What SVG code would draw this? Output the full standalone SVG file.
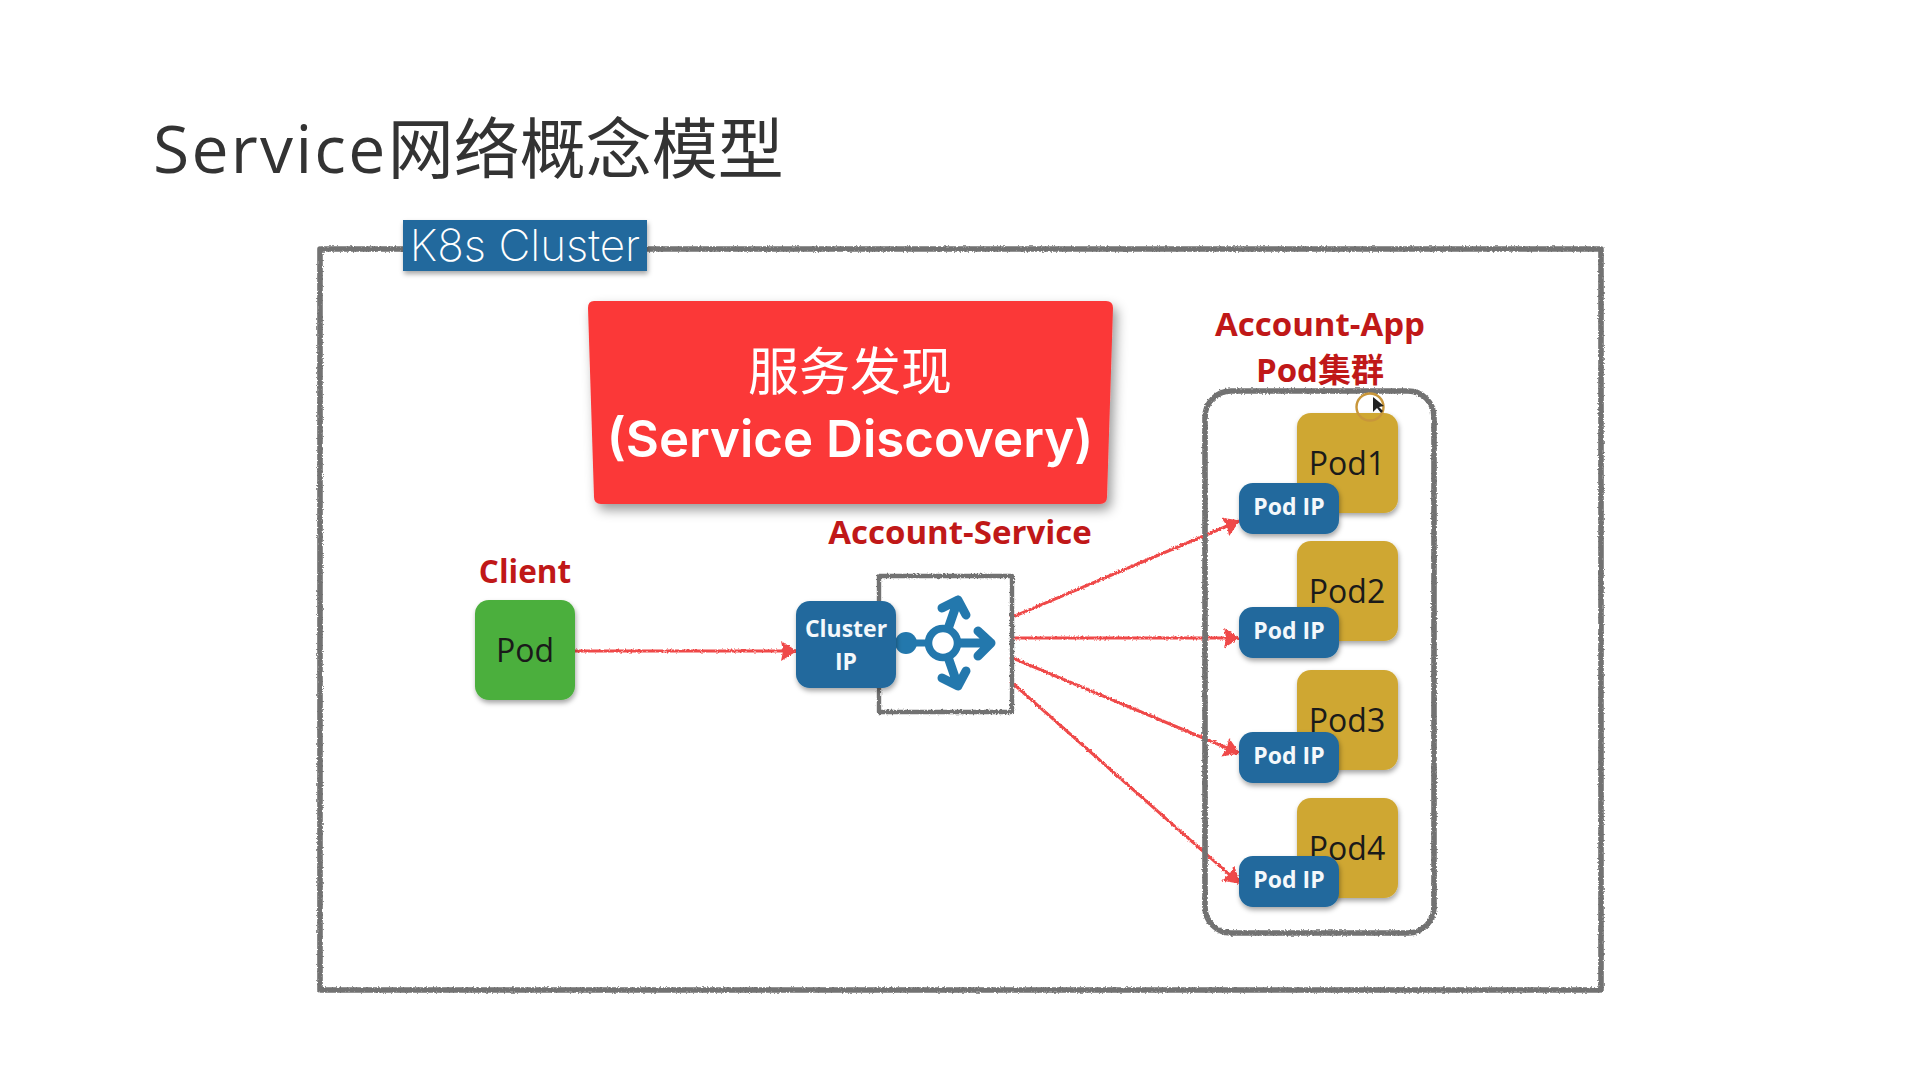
<svg xmlns="http://www.w3.org/2000/svg" width="1920" height="1080" viewBox="0 0 1920 1080">
<defs>
<style>
.sk{fill:none;stroke:#727272;stroke-width:5.6;stroke-linejoin:round}
.conn{fill:none;stroke:#ef4848;stroke-width:3}
.ah{fill:#ef4848}
.blue{fill:#20699d}
.pod{fill:#cfa733}
.lbl{font-family:"Open Sans","Noto Sans CJK SC",sans-serif}
.red{font-family:"Open Sans","Noto Sans CJK SC",sans-serif;font-weight:700;font-size:33px;fill:#c01818;text-anchor:middle}
.podt{font-family:"Open Sans",sans-serif;font-size:32px;fill:#1a1a1a;text-anchor:middle}
.ipt{font-family:"Open Sans",sans-serif;font-weight:700;font-size:23px;fill:#f4f8fb;text-anchor:middle}
</style>
<filter id="sh" x="-20%" y="-20%" width="140%" height="140%"><feDropShadow dx="1" dy="3" stdDeviation="2.5" flood-color="#000" flood-opacity=".35"/></filter>
<filter id="shb" x="-20%" y="-20%" width="140%" height="140%"><feDropShadow dx="4" dy="6" stdDeviation="6" flood-color="#000" flood-opacity=".4"/></filter>
<filter id="rough" filterUnits="userSpaceOnUse" x="0" y="0" width="1920" height="1080"><feTurbulence type="fractalNoise" baseFrequency=".55" numOctaves="2" seed="4"/><feDisplacementMap in="SourceGraphic" scale="3.2" xChannelSelector="R" yChannelSelector="G"/></filter>
<marker id="arr" viewBox="0 0 16 20" refX="15" refY="10" markerWidth="16" markerHeight="20" markerUnits="userSpaceOnUse" orient="auto"><path class="ah" d="M0 0L16 10L0 20L2 10Z"/></marker>
</defs>
<rect width="1920" height="1080" fill="#fff"/>
<text id="title" x="153" y="173" class="lbl" font-size="66" fill="#333"><tspan letter-spacing="2.3">Service</tspan>网络概念模型</text>
<g id="cluster">
<rect class="sk" x="320" y="249" width="1281" height="741" filter="url(#rough)"/>
<rect x="403" y="220" width="244" height="51" class="blue" filter="url(#sh)"/>
<text x="525" y="261" text-anchor="middle" font-family="Inter,'Open Sans',sans-serif" font-size="44" font-weight="200" fill="#fff">K8s Cluster</text>
</g>
<g id="discovery">
<path d="M594 301H1106Q1113 301 1113 308L1107 497Q1107 504 1100 504H601Q594 504 594 497L588 308Q588 301 594 301Z" fill="#fb3838" filter="url(#shb)"/>
<text x="850" y="390" text-anchor="middle" class="lbl" font-size="51" fill="#fff">服务发现</text>
<text x="850" y="457" text-anchor="middle" font-family="Inter,'Open Sans',sans-serif" font-weight="600" font-size="51" fill="#fff">(Service Discovery)</text>
</g>
<g id="connectors" filter="url(#rough)">
<path class="conn" marker-end="url(#arr)" d="M575 651H796"/>
<path class="conn" marker-end="url(#arr)" d="M1010 618L1239 521"/>
<path class="conn" marker-end="url(#arr)" d="M1010 638H1239"/>
<path class="conn" marker-end="url(#arr)" d="M1010 657L1239 753"/>
<path class="conn" marker-end="url(#arr)" d="M1010 681L1239 883"/>
</g>
<g id="client">
<text x="525" y="583" class="red" style="font-size:31.5px">Client</text>
<rect x="475" y="600" width="100" height="100" rx="14" fill="#4caf3d" filter="url(#sh)"/>
<text x="525" y="662" class="podt">Pod</text>
</g>
<g id="service">
<text x="960" y="544" class="red">Account-Service</text>
<rect class="sk" x="879" y="576" width="133" height="136" style="stroke-width:4.4" filter="url(#rough)"/>
<g fill="none" stroke="#2378ad" stroke-linecap="round" stroke-linejoin="round">
<circle cx="906" cy="643" r="11" fill="#2378ad" stroke="none"/>
<path d="M906 643H930" stroke-width="7" stroke-linecap="butt"/>
<path d="M957 643H991M978 631L991 643L978 656M948 629L958 600M942 608L958 600L966 615M948 657L958 686M942 678L958 686L966 671" stroke-width="9"/>
<circle cx="943" cy="643" r="14.5" fill="#fff" stroke-width="7.5"/>
</g>
<rect x="796" y="601" width="100" height="87" rx="14" class="blue" filter="url(#sh)"/>
<text x="846" y="637" class="ipt">Cluster</text>
<text x="846" y="670" class="ipt">IP</text>
</g>
<g id="podgroup">
<text x="1320" y="336" class="red">Account-App</text>
<text x="1320" y="382" class="red">Pod集群</text>
<rect class="sk" x="1205" y="391" width="229" height="542" rx="26" filter="url(#rough)"/>
</g>
<g id="pod1"><rect x="1297" y="413" width="101" height="100" rx="14" class="pod" filter="url(#sh)"/><text x="1347" y="475" class="podt">Pod1</text><rect x="1239" y="483" width="100" height="51" rx="14" class="blue" filter="url(#sh)"/><text x="1289" y="515" class="ipt">Pod IP</text></g>
<g id="pod2"><rect x="1297" y="541" width="101" height="100" rx="14" class="pod" filter="url(#sh)"/><text x="1347" y="603" class="podt">Pod2</text><rect x="1239" y="607" width="100" height="51" rx="14" class="blue" filter="url(#sh)"/><text x="1289" y="639" class="ipt">Pod IP</text></g>
<g id="pod3"><rect x="1297" y="670" width="101" height="100" rx="14" class="pod" filter="url(#sh)"/><text x="1347" y="732" class="podt">Pod3</text><rect x="1239" y="732" width="100" height="51" rx="14" class="blue" filter="url(#sh)"/><text x="1289" y="764" class="ipt">Pod IP</text></g>
<g id="pod4"><rect x="1297" y="798" width="101" height="100" rx="14" class="pod" filter="url(#sh)"/><text x="1347" y="860" class="podt">Pod4</text><rect x="1239" y="856" width="100" height="51" rx="14" class="blue" filter="url(#sh)"/><text x="1289" y="888" class="ipt">Pod IP</text></g>
<g id="cursor">
<circle cx="1370" cy="407" r="13.5" fill="none" stroke="#c8963a" stroke-width="2.4"/>
<path d="M1373 397L1373 412L1377 408L1381 413L1383 411L1379 407L1384 406Z" fill="#222"/>
</g>
</svg>
